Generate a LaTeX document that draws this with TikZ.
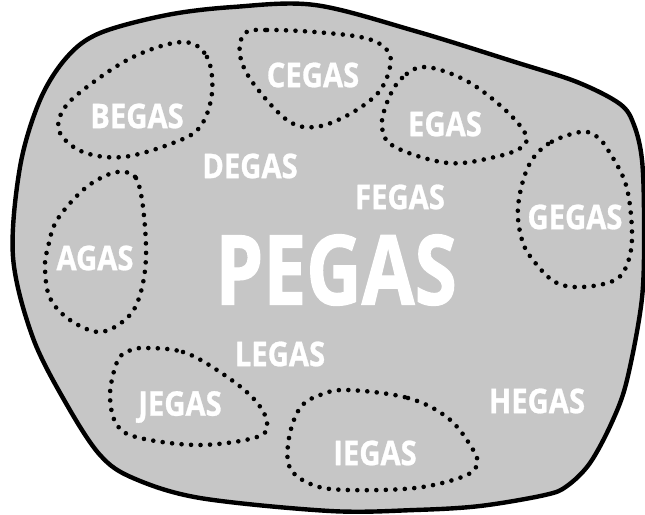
\documentclass[tikz,border=0pt]{standalone}
\usepackage{fontspec}
\newfontfamily\labfont[FakeStretch=0.86,FakeBold=0.8]{Open Sans}
\newfontfamily\bigfont[FakeStretch=0.79,FakeBold=1.2]{Open Sans}
\definecolor{blobgray}{RGB}{198,198,198}
\tikzset{
  lab/.style={text=white, inner sep=0pt, font=\labfont\bfseries\fontsize{34}{34}\selectfont},
  biglab/.style={text=white, inner sep=0pt, font=\bigfont\bfseries\fontsize{97}{97}\selectfont},
  loop/.style={line width=4.6pt, line cap=round, dash pattern=on 0pt off 9.5pt, black},
  blob/.style={line width=4.4pt, fill=blobgray, draw=black, line join=round}
}
\begin{document}
\begin{tikzpicture}[x=1pt,y=-1pt]
\useasboundingbox (0,0) rectangle (645,514);
% outer region
\draw[blob] plot[smooth cycle, tension=0.55] coordinates {
 (13,257) (20,167) (40,100) (67,57) (100,33) (167,15) (233,7) (315,5)
 (415,31) (515,62) (577,82) (620,104) (634,125) (642,160) (644,220)
 (642,298) (627,380) (612,422) (590,463) (567,486) (545,495) (480,506)
 (415,510) (330,511) (200,498) (133,478) (100,455) (67,405) (33,338)};
% dotted loops
\draw[loop] plot[smooth cycle, tension=0.6] coordinates {
 (183,42) (207,57) (212,93) (200,127) (173,143) (123,157) (83,152) (60,133)
 (62,112) (83,90) (133,57)};
\draw[loop] plot[smooth cycle, tension=0.6] coordinates {
 (245,33) (267,30) (315,32) (365,38) (387,50) (390,67) (378,93) (348,115)
 (315,127) (287,120) (253,83) (240,55)};
\draw[loop] plot[smooth cycle, tension=0.6] coordinates {
 (425,67) (402,78) (388,100) (382,127) (395,147) (448,163) (495,157)
 (522,147) (525,133) (502,107) (465,80)};
\draw[loop] plot[smooth cycle, tension=0.6] coordinates {
 (580,132) (548,144) (528,167) (518,207) (522,240) (533,260) (555,282)
 (582,287) (615,280) (628,262) (632,232) (626,185) (608,150) (596,136)};
\draw[loop] plot[smooth cycle, tension=0.6] coordinates {
 (123,172) (136,178) (143,207) (146,257) (140,295) (127,318) (100,332)
 (70,320) (50,298) (45,268) (48,247) (57,220) (83,190) (107,175)};
\draw[loop] plot[smooth cycle, tension=0.6] coordinates {
 (143,348) (183,352) (220,372) (253,398) (267,422) (257,437) (200,445)
 (140,438) (117,425) (110,395) (117,362) (127,352)};
\draw[loop] plot[smooth cycle, tension=0.6] coordinates {
 (348,390) (408,398) (448,418) (472,448) (477,465) (462,477) (415,488)
 (348,490) (313,485) (290,468) (289,438) (300,408) (320,395)};
% labels
\node[lab] (b) at (137,116) {BEGAS};
\node[lab] (c) at (313,75) {CEGAS};
\node[lab] (d) at (250,166) {DEGAS};
\node[lab] (e) at (445,124) {EGAS};
\node[lab] (f) at (400,197) {FEGAS};
\node[lab] (g) at (575,217) {GEGAS};
\node[lab] (a) at (95,258) {AGAS};
\node[biglab] (p) at (336,270) {PEGAS};
\node[lab] (l) at (280,354) {LEGAS};
\node[lab] (j) at (180,407) {JEGAS};
\node[lab] (h) at (537,401) {HEGAS};
\node[lab] (i) at (375,453) {IEGAS};
\end{tikzpicture}
\end{document}
